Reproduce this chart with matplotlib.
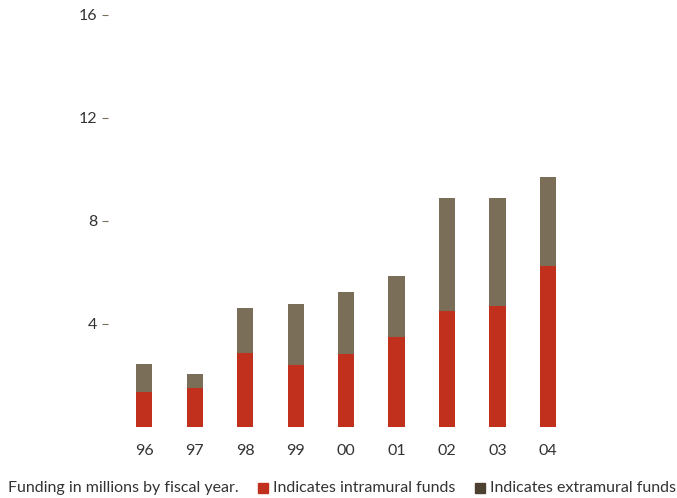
import matplotlib.pyplot as plt
from matplotlib.patches import Rectangle

years = ['96', '97', '98', '99', '00', '01', '02', '03', '04']
intramural = [1.36, 1.51, 2.87, 2.41, 2.83, 3.50, 4.50, 4.70, 6.25]
totals = [2.45, 2.06, 4.62, 4.78, 5.24, 5.86, 8.89, 8.89, 9.71]
extramural = [t - i for t, i in zip(totals, intramural)]
y_ticks = [4, 8, 12, 16]

red = '#c0301c'
brown = '#7a6e58'
dark = '#4d4232'
txt = '#333333'

plt.rcParams['font.family'] = ['Lato', 'DejaVu Sans']

fig = plt.figure(figsize=(6.77, 4.98), dpi=100)
ax = fig.add_axes([0.16, 0.1426, 0.884 - 0.16, 0.97 - 0.1426])

x = range(len(years))
ax.bar(x, intramural, 0.32, color=red)
ax.bar(x, extramural, 0.32, bottom=intramural, color=brown)

ax.set_xlim(-0.71, 9.0)
ax.set_ylim(0, 16)
ax.set_xticks(list(x))
ax.set_xticklabels(years, fontsize=11.5, color=txt)
ax.set_yticks(y_ticks)
ax.set_yticklabels([str(v) for v in y_ticks], fontsize=11.5, color=txt)
ax.tick_params(axis='x', length=0, pad=12)
ax.tick_params(axis='y', length=4, width=0.8, color=brown, pad=4, direction='out')
for s in ax.spines.values():
    s.set_visible(False)

fig.text(8 / 677, 1 - 488 / 498, 'Funding in millions by fiscal year.',
         fontsize=11.5, color=txt, va='center')
fig.patches.append(Rectangle((258 / 677, 1 - 493 / 498), 10 / 677, 10 / 498,
                             transform=fig.transFigure, color=red))
fig.text(273 / 677, 1 - 488 / 498, 'Indicates intramural funds',
         fontsize=11.5, color=txt, va='center')
fig.patches.append(Rectangle((475 / 677, 1 - 493 / 498), 10 / 677, 10 / 498,
                             transform=fig.transFigure, color=dark))
fig.text(490 / 677, 1 - 488 / 498, 'Indicates extramural funds',
         fontsize=11.5, color=txt, va='center')

fig.savefig('out.png', dpi=100)
